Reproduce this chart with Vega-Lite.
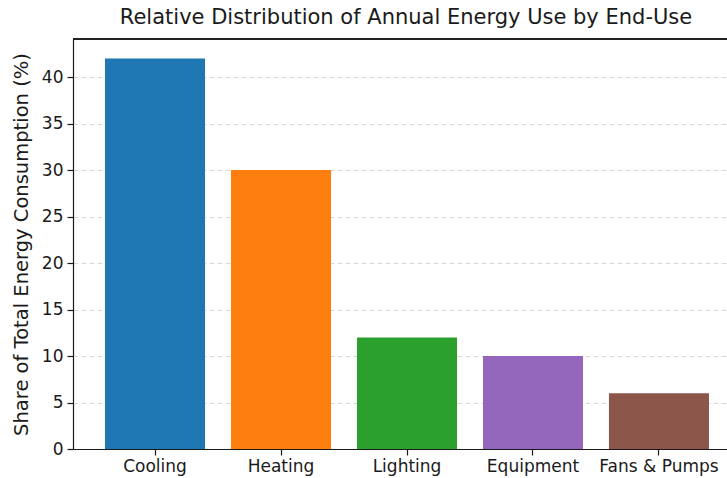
{
  "$schema": "https://vega.github.io/schema/vega-lite/v6.json",
  "autosize": {"type": "none"},
  "padding": {"left": 73, "top": 39, "right": 0, "bottom": 29},
  "width": 654,
  "height": 410,
  "config": {
    "view": {"stroke": null},
    "font": "DejaVu Sans",
    "axis": {"labelFont": "DejaVu Sans", "titleFont": "DejaVu Sans", "labelColor": "#1a1a1a", "titleColor": "#1a1a1a", "domainColor": "#1a1a1a", "tickColor": "#1a1a1a"}
  },
  "title": {"text": "Relative Distribution of Annual Energy Use by End-Use", "fontSize": 21, "fontWeight": "normal", "font": "DejaVu Sans", "color": "#1a1a1a", "offset": 10, "dx": 6, "anchor": "middle"},
  "data": {"values": [
    {"enduse": "Cooling", "share": 42},
    {"enduse": "Heating", "share": 30},
    {"enduse": "Lighting", "share": 12},
    {"enduse": "Equipment", "share": 10},
    {"enduse": "Fans & Pumps", "share": 6}
  ]},
  "layer": [
    {
      "mark": {"type": "bar"},
      "encoding": {
        "x": {"field": "enduse", "type": "nominal", "sort": null,
          "scale": {"paddingInner": 0.206, "paddingOuter": 0.1985, "align": 0.64},
          "axis": {"title": null, "labelAngle": 0, "labelFontSize": 17, "labelPadding": 3, "tickSize": 6, "tickWidth": 1.2, "domainWidth": 1.2, "grid": false}},
        "y": {"field": "share", "type": "quantitative",
          "scale": {"domain": [0, 44.1], "nice": false},
          "axis": {"title": "Share of Total Energy Consumption (%)", "titleFontSize": 19.5, "titleFontWeight": "normal", "titlePadding": 10, "values": [0,5,10,15,20,25,30,35,40], "labelFontSize": 17, "labelPadding": 4, "tickSize": 6, "tickWidth": 1.2, "domainWidth": 1.2, "grid": true, "gridColor": "#d9d9d9", "gridDash": [5, 3], "gridWidth": 1}},
        "color": {"field": "enduse", "type": "nominal", "sort": null,
          "scale": {"domain": ["Cooling", "Heating", "Lighting", "Equipment", "Fans & Pumps"], "range": ["#1f77b4", "#ff7f0e", "#2ca02c", "#9467bd", "#8c564b"]},
          "legend": null}
      }
    },
    {
      "mark": {"type": "rule", "color": "#1a1a1a", "strokeWidth": 1.2},
      "encoding": {"y": {"datum": 44.1}}
    }
  ]
}
